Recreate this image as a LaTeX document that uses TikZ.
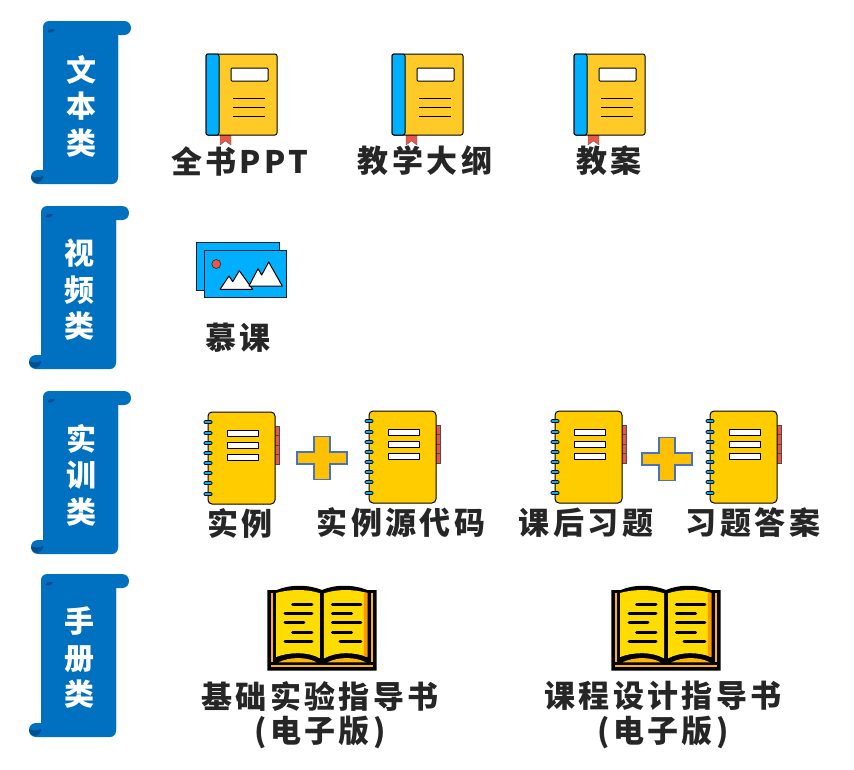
\documentclass[tikz,border=0pt]{standalone}
\usepackage{fontspec}
\newfontfamily\cjklabel[LetterSpace=11]{Noto Sans CJK SC}
\newfontfamily\cjkhead{Noto Sans CJK SC}
\definecolor{scrollblue}{HTML}{0070C0}
\definecolor{scrolldark}{HTML}{00508F}
\definecolor{scrolledge}{HTML}{BDD7EE}
\definecolor{bookyellow}{HTML}{FFCA28}
\definecolor{bookblue}{HTML}{00B0FF}
\definecolor{markred}{HTML}{E8584A}
\definecolor{noteyellow}{HTML}{FFCC00}
\definecolor{plusfill}{HTML}{FFC000}
\definecolor{plusedge}{HTML}{4472C4}
\definecolor{pageyellow}{HTML}{FFDC00}
\definecolor{pagedark}{HTML}{FFB400}
\definecolor{pageedge}{HTML}{FF9800}
\definecolor{labeltext}{HTML}{262626}
\tikzset{
  x=1pt,y=-1pt,
  headtext/.style={text=white,align=center,inner sep=0pt,font=\cjkhead\bfseries\fontsize{30}{36.5}\selectfont},
  labeltxt/.style={text=labeltext,inner sep=0pt,font=\cjklabel\bfseries\fontsize{31}{36}\selectfont},
  iconline/.style={draw=black,line width=1pt,line join=round},
}
% scroll: #1,#2 top-left of the body
\newcommand{\scrollshape}[2]{%
  \begin{scope}[shift={(#1,#2)}]
    \fill[scrollblue] (6,0) -- (81,0) .. controls (90.3,0) and (90.3,14) .. (81,14) -- (75,14) -- (75,157)
      .. controls (75,160.3) and (72.3,163) .. (69,163) -- (-5,163)
      .. controls (-14.3,163) and (-14.3,149) .. (-5,149) -- (0,149) -- (0,6)
      .. controls (0,2.7) and (2.7,0) .. (6,0) -- cycle;
    \draw[scrolledge,line width=.7pt] (75.4,14) -- (75.4,156);
    \fill[scrolldark] (4.5,11) .. controls (5,7.5) and (10,7.5) .. (12,8.5) .. controls (11,11) and (7,12.5) .. (4.5,11) -- cycle;
    \fill[scrolldark] (-12,155) .. controls (-12,164) and (0,164) .. (0,155) .. controls (-4,157) and (-8,157) .. (-12,155) -- cycle;
  \end{scope}}
% closed book
\newcommand{\closedbook}[2]{%
  \begin{scope}[shift={(#1,#2)}]
    \fill[markred,draw=black!60,line width=.4pt] (14,81) -- (25,81) -- (25,91) -- (19.5,87) -- (14,91) -- cycle;
    \draw[iconline,fill=bookyellow,rounded corners=2pt] (0,0) rectangle (71,81);
    \draw[iconline,fill=bookblue,rounded corners=2pt] (0,0) -- (13,0) -- (13,81) -- (0,81) -- cycle;
    \draw[iconline,fill=white,rounded corners=1pt] (25,14) rectangle (62,27);
    \draw[iconline] (27,44) -- (59,44) (27,53) -- (59,53) (27,62) -- (59,62);
  \end{scope}}
% spiral notebook
\newcommand{\spiralnote}[2]{%
  \begin{scope}[shift={(#1,#2)}]
    \foreach \yy in {0,1,2,3}
      \draw[fill=markred,draw=black!70,line width=.5pt] (65,14+\yy*9.5) rectangle (71.5,23.5+\yy*9.5);
    \draw[iconline,fill=noteyellow,rounded corners=4pt] (0,0) rectangle (67,92);
    \foreach \yy in {10,21,31,41,51,61,71,82}
      \draw[fill=bookblue,draw=black,line width=.7pt,rounded corners=1pt] (-4,\yy-1.5) rectangle (4,\yy+1.5);
    \foreach \yy in {18,30,42}
      \draw[iconline,fill=white] (19,\yy) rectangle (50,\yy+6);
  \end{scope}}
% plus sign
\newcommand{\plussign}[2]{%
  \draw[plusedge,fill=plusfill,line width=1.5pt] (#1-8,#2-21.5) -- (#1+8,#2-21.5) -- (#1+8,#2-6) -- (#1+25,#2-6)
    -- (#1+25,#2+6) -- (#1+8,#2+6) -- (#1+8,#2+21.5) -- (#1-8,#2+21.5) -- (#1-8,#2+6) -- (#1-25,#2+6)
    -- (#1-25,#2-6) -- (#1-8,#2-6) -- cycle;}
% open book: drawn in the coordinates of a 3x crop
\newcommand{\openbook}[2]{%
  \begin{scope}[shift={(#1,#2)},x=.3333pt,y=-.3333pt]
    \fill[black] (52,45) -- (80,45) .. controls (120,28) and (175,28) .. (216,45) .. controls (255,28) and (310,28) .. (352,45)
      -- (380,45) -- (380,287) -- (52,287) -- cycle;
    \fill[pagedark] (62,55) rectangle (69,262);
    \fill[pagedark] (363,55) rectangle (370,262);
    \fill[pagedark] (62,270) rectangle (370,277);
    \fill[pageyellow] (78,54) .. controls (120,42) and (175,42) .. (210,55) -- (210,250) .. controls (175,230) and (120,230) .. (78,246) -- cycle;
    \fill[pageyellow] (222,55) .. controls (260,42) and (310,42) .. (352,54) -- (352,246) .. controls (310,230) and (260,230) .. (222,250) -- cycle;
    \fill[pageedge] (342,52) -- (352,54) -- (352,246) -- (342,243) -- cycle;
    \fill[pagedark] (85,262) .. controls (120,245) and (170,245) .. (200,262) -- cycle;
    \fill[pagedark] (232,262) .. controls (265,245) and (315,245) .. (348,262) -- cycle;
    \draw[line width=3pt,line cap=round,black]
      (128,88) -- (186,88) (105,116) -- (186,116) (105,143) -- (162,143) (128,171) -- (186,171) (105,198) -- (186,198)
      (247,88) -- (333,88) (247,116) -- (305,116) (247,143) -- (333,143) (247,171) -- (305,171) (270,198) -- (333,198);
  \end{scope}}
\begin{document}
\begin{tikzpicture}
\useasboundingbox (0,0) rectangle (854,769);
\scrollshape{43}{21}
\scrollshape{41}{206}
\scrollshape{43}{391}
\scrollshape{41}{574}
\node[headtext] (h1) at (81,106) {文\\本\\类};
\node[headtext] (h2) at (79,290) {视\\频\\类};
\node[headtext] (h3) at (81,475) {实\\训\\类};
\node[headtext] (h4) at (79,658) {手\\册\\类};

\closedbook{206}{54}
\closedbook{392}{54}
\closedbook{574}{54}
\node[labeltxt] (t1) at (240,161) {全书PPT};
\node[labeltxt] (t2) at (425,161) {教学大纲};
\node[labeltxt] (t3) at (609,161) {教案};

% picture icon
\draw[draw=black!80!bookblue,fill=bookblue,line width=1pt] (196.3,242.3) rectangle (279,290);
\draw[draw=black!80!bookblue,fill=bookblue,line width=1pt] (204.3,250) rectangle (286.7,297.7);
\fill[markred,draw=black!80,line width=.7pt] (216.3,264) circle[radius=4.5];
\draw[iconline,fill=white] (220,289.3) -- (229,276) -- (232.7,281.7) -- (239.3,270.7) -- (252.7,289.3) -- cycle;
\draw[iconline,fill=white] (249,286) -- (258,268.7) -- (261.7,275) -- (268.7,262) -- (282.3,286) -- cycle;
\node[labeltxt] (t4) at (238,338) {慕课};

\spiralnote{208}{412}
\spiralnote{369}{411}
\spiralnote{555}{411}
\spiralnote{710}{411}
\plussign{322}{458}
\plussign{667}{459}
\node[labeltxt] (t5) at (240,523) {实例};
\node[labeltxt] (t6) at (401,523) {实例源代码};
\node[labeltxt] (t7) at (586,523) {课后习题};
\node[labeltxt] (t8) at (753,523) {习题答案};

\openbook{250}{575}
\openbook{594}{575}
\node[labeltxt] (t9) at (320,696) {基础实验指导书};
\node[labeltxt] (t10) at (320,732) {(电子版)};
\node[labeltxt] (t11) at (663,696) {课程设计指导书};
\node[labeltxt] (t12) at (663,732) {(电子版)};
\end{tikzpicture}
\end{document}
